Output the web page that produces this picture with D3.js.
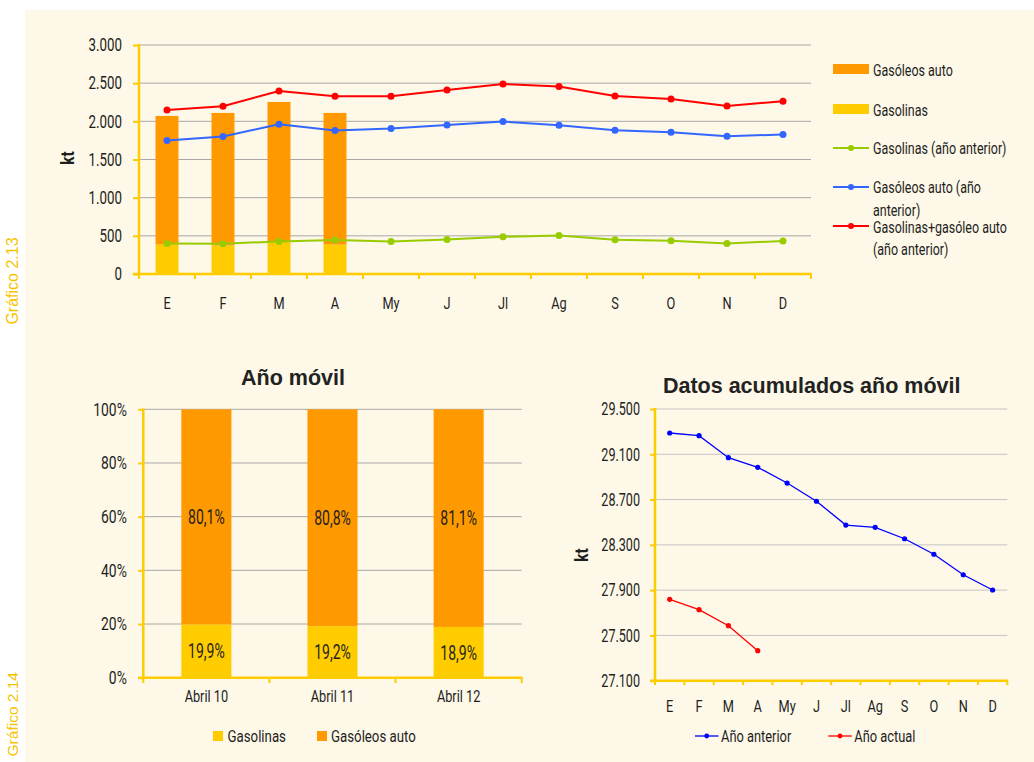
<!DOCTYPE html>
<html><head><meta charset="utf-8">
<script src="https://cdn.jsdelivr.net/npm/d3@7"></script>
<style>
body{margin:0;background:#fff;}
svg text{font-family:Roboto,"Liberation Sans",sans-serif;fill:#1e1e1e;}
svg text.arial{font-family:"Liberation Sans",Arial,sans-serif;}
</style></head><body>
<svg id="c" width="1034" height="762"></svg>
<script>
// ---------- data ----------
const months = ["E","F","M","A","My","J","Jl","Ag","S","O","N","D"];
const gasolinas = [385,375,420,385];
const gasoleos = [1686,1735,1834,1725];
const gasolinasPrev = [401,397,427,445,427,453,488,505,449,436,401,432];
const gasoleosPrev = [1748,1800,1962,1879,1905,1953,1997,1949,1884,1858,1806,1827];
const totalPrev = [2149,2197,2398,2328,2328,2410,2490,2455,2333,2293,2202,2263];
const yTicksTop = [0,500,1000,1500,2000,2500,3000];

const movilCats = ["Abril 10","Abril 11","Abril 12"];
const movilGasolinas = [19.9,19.2,18.9];
const movilGasoleos = [80.1,80.8,81.1];
const yTicksMovil = [0,20,40,60,80,100];

const acumPrev = [29288,29264,29070,28985,28846,28685,28475,28455,28354,28217,28036,27901];
const acumCurr = [27819,27727,27586,27365];
const yTicksAcum = [27100,27500,27900,28300,28700,29100,29500];

// ---------- setup ----------
const loc = d3.formatLocale({decimal:",",thousands:".",grouping:[3],currency:["",""]});
const fmtK = loc.format(",d");
const fmtP = loc.format(".1f");
const C = {orange:"#FF9900",yellow:"#FFCC00",green:"#99CC00",blue:"#3366FF",red:"#FF0000",axis:"#FFCC00",grid:"#A8A8A8"};

// narrow the glyphs of a text selection horizontally around its anchor (emulates a condensed face)
function condense(sel,k){
  sel.each(function(){
    const s = d3.select(this);
    const x = +s.attr("x") || 0;
    const t = s.attr("transform") || "";
    s.attr("transform",`${t} translate(${x},0) scale(${k},1) translate(${-x},0)`.trim());
  });
}

const svg = d3.select("#c");
svg.append("rect").attr("x",25).attr("y",10).attr("width",1009).attr("height",752).attr("fill","#FDF8E7");

svg.append("text").attr("class","arial").attr("transform","translate(18,281) rotate(-90)")
  .attr("text-anchor","middle").style("font-size","16px").style("fill","#F5C400").text("Gráfico 2.13");
svg.append("text").attr("class","arial").attr("transform","translate(18,672) rotate(-90)")
  .attr("text-anchor","end").style("font-size","15.5px").style("fill","#F5C400").text("Gráfico 2.14");

function styleAxis(g,fs,k){
  g.select(".domain").remove();
  g.selectAll(".tick line").attr("stroke",C.axis).attr("stroke-width",2);
  g.selectAll(".tick text").attr("font-family",null).attr("font-size",null)
    .style("font-size",fs+"px").style("fill","#1e1e1e");
  condense(g.selectAll(".tick text"),k);
}

// ---------- top chart ----------
(function(){
  const x = d3.scaleBand().domain(months).range([139,811]);
  const y = d3.scaleLinear().domain([0,3000]).range([274,45]);
  const g = svg.append("g");
  g.selectAll("line.grid").data(yTicksTop.filter(d=>d>0)).join("line")
    .attr("x1",139).attr("x2",811).attr("y1",d=>y(d)).attr("y2",d=>y(d))
    .attr("stroke",C.grid).attr("stroke-width",1);
  const bw = x.bandwidth()*0.41;
  g.selectAll("rect.gl").data(gasolinas).join("rect")
    .attr("x",(d,i)=>x(months[i])+(x.bandwidth()-bw)/2).attr("width",bw)
    .attr("y",d=>y(d)).attr("height",d=>y(0)-y(d)).attr("fill",C.yellow);
  g.selectAll("rect.go").data(gasoleos).join("rect")
    .attr("x",(d,i)=>x(months[i])+(x.bandwidth()-bw)/2).attr("width",bw)
    .attr("y",(d,i)=>y(d+gasolinas[i])).attr("height",(d,i)=>y(gasolinas[i])-y(d+gasolinas[i])).attr("fill",C.orange);
  const ya = g.append("g").attr("transform","translate(139,0)")
    .call(d3.axisLeft(y).tickValues(yTicksTop).tickSize(6).tickPadding(11).tickFormat(fmtK));
  styleAxis(ya,18,0.74);
  g.append("line").attr("x1",139).attr("x2",139).attr("y1",44).attr("y2",275).attr("stroke",C.axis).attr("stroke-width",2.5);
  g.append("line").attr("x1",133).attr("x2",812).attr("y1",274).attr("y2",274).attr("stroke",C.axis).attr("stroke-width",2.5);
  g.selectAll("line.xt").data(d3.range(months.length+1)).join("line")
    .attr("x1",i=>139+i*x.step()).attr("x2",i=>139+i*x.step()).attr("y1",274).attr("y2",279)
    .attr("stroke",C.axis).attr("stroke-width",2);
  const xa = g.append("g").attr("transform","translate(0,274)").call(d3.axisBottom(x).tickSize(0).tickPadding(23));
  styleAxis(xa,17,0.75);
  const series = [[gasolinasPrev,C.green],[gasoleosPrev,C.blue],[totalPrev,C.red]];
  series.forEach(([vals,col])=>{
    const line = d3.line().x((d,i)=>x(months[i])+x.bandwidth()/2).y(d=>y(d));
    g.append("path").datum(vals).attr("d",line).attr("fill","none").attr("stroke",col).attr("stroke-width",2);
    g.selectAll(null).data(vals).join("circle").attr("cx",(d,i)=>x(months[i])+x.bandwidth()/2)
      .attr("cy",d=>y(d)).attr("r",3.5).attr("fill",col);
  });
  g.append("text").attr("transform","translate(74,158) rotate(-90) scale(0.85,1)").attr("text-anchor","middle")
    .style("font-size","18px").style("font-weight","bold").text("kt");
  // legend
  const lg = svg.append("g");
  const lx = 833, tx = 873;
  lg.append("rect").attr("x",lx).attr("y",64).attr("width",36).attr("height",10).attr("fill",C.orange);
  lg.append("rect").attr("x",lx).attr("y",104).attr("width",36).attr("height",10).attr("fill",C.yellow);
  [[148,C.green],[187,C.blue],[226,C.red]].forEach(([yy,col])=>{
    lg.append("line").attr("x1",lx).attr("x2",lx+36).attr("y1",yy).attr("y2",yy).attr("stroke",col).attr("stroke-width",2);
    lg.append("circle").attr("cx",lx+18).attr("cy",yy).attr("r",3).attr("fill",col);
  });
  const lt = [["Gasóleos auto",70.5],["Gasolinas",110],["Gasolinas (año anterior)",148.5],["Gasóleos auto (año",187],["anterior)",210],["Gasolinas+gasóleo auto",227],["(año anterior)",249.5]];
  const lts = lg.selectAll("text").data(lt).join("text").attr("x",tx).attr("y",d=>d[1]).attr("dy","0.35em")
    .style("font-size","16px").text(d=>d[0]);
  condense(lts,0.78);
})();

// ---------- bottom left ----------
(function(){
  const x = d3.scaleBand().domain(movilCats).range([143.3,521.7]);
  const y = d3.scaleLinear().domain([0,100]).range([677.7,409.3]);
  const g = svg.append("g");
  svg.append("text").attr("class","arial").attr("x",293).attr("y",385).attr("text-anchor","middle")
    .style("font-size","21.5px").style("font-weight","bold").style("fill","#222").text("Año móvil");
  g.selectAll("line.grid").data(yTicksMovil.filter(d=>d>0)).join("line")
    .attr("x1",143).attr("x2",521.7).attr("y1",d=>y(d)).attr("y2",d=>y(d))
    .attr("stroke",C.grid).attr("stroke-width",1);
  const bw = x.bandwidth()*0.397;
  const bx = d=>x(d)+(x.bandwidth()-bw)/2;
  g.selectAll("rect.a").data(movilGasolinas).join("rect")
    .attr("x",(d,i)=>bx(movilCats[i])).attr("width",bw).attr("y",d=>y(d)).attr("height",d=>y(0)-y(d)).attr("fill",C.yellow);
  g.selectAll("rect.b").data(movilGasoleos).join("rect")
    .attr("x",(d,i)=>bx(movilCats[i])).attr("width",bw).attr("y",(d,i)=>y(d+movilGasolinas[i]))
    .attr("height",(d,i)=>y(movilGasolinas[i])-y(d+movilGasolinas[i])).attr("fill",C.orange);
  const la = g.selectAll("text.la").data(movilGasolinas).join("text")
    .attr("x",(d,i)=>x(movilCats[i])+x.bandwidth()/2).attr("y",d=>y(d/2)).attr("dy","0.36em")
    .attr("text-anchor","middle").style("font-size","20px").text(d=>fmtP(d)+"%");
  const lb = g.selectAll("text.lb").data(movilGasoleos).join("text")
    .attr("x",(d,i)=>x(movilCats[i])+x.bandwidth()/2).attr("y",(d,i)=>y(movilGasolinas[i]+d/2)).attr("dy","0.36em")
    .attr("text-anchor","middle").style("font-size","20px").text(d=>fmtP(d)+"%");
  condense(la,0.7); condense(lb,0.7);
  const ya = g.append("g").attr("transform","translate(143.3,0)")
    .call(d3.axisLeft(y).tickValues(yTicksMovil).tickSize(5).tickPadding(11.5).tickFormat(d=>d+"%"));
  styleAxis(ya,18.5,0.75);
  g.append("line").attr("x1",143.3).attr("x2",143.3).attr("y1",408.5).attr("y2",678.5).attr("stroke",C.axis).attr("stroke-width",2.5);
  g.append("line").attr("x1",138).attr("x2",522.5).attr("y1",677.7).attr("y2",677.7).attr("stroke",C.axis).attr("stroke-width",2.5);
  g.selectAll("line.xt").data(d3.range(movilCats.length+1)).join("line")
    .attr("x1",i=>143.3+i*x.step()).attr("x2",i=>143.3+i*x.step()).attr("y1",677.7).attr("y2",683)
    .attr("stroke",C.axis).attr("stroke-width",2);
  const xa = g.append("g").attr("transform","translate(0,677.7)").call(d3.axisBottom(x).tickSize(0).tickPadding(12));
  styleAxis(xa,17,0.75);
  g.append("rect").attr("x",213).attr("y",731).attr("width",10).attr("height",10).attr("fill",C.yellow);
  g.append("rect").attr("x",317).attr("y",731).attr("width",10).attr("height",10).attr("fill",C.orange);
  const lg1 = g.append("text").attr("x",227.5).attr("y",736).attr("dy","0.36em").style("font-size","17px").text("Gasolinas");
  const lg2 = g.append("text").attr("x",331).attr("y",736).attr("dy","0.36em").style("font-size","17px").text("Gasóleos auto");
  condense(lg1,0.78); condense(lg2,0.78);
})();

// ---------- bottom right ----------
(function(){
  const x = d3.scaleBand().domain(months).range([655,1007.3]);
  const y = d3.scaleLinear().domain([27100,29500]).range([680.7,409]);
  const g = svg.append("g");
  svg.append("text").attr("class","arial").attr("x",811.7).attr("y",392.5).attr("text-anchor","middle")
    .style("font-size","21.5px").style("font-weight","bold").style("fill","#222").text("Datos acumulados año móvil");
  g.selectAll("line.grid").data(yTicksAcum.slice(1)).join("line")
    .attr("x1",655).attr("x2",1007.3).attr("y1",d=>y(d)).attr("y2",d=>y(d))
    .attr("stroke","#C4C4C4").attr("stroke-width",1);
  const ya = g.append("g").attr("transform","translate(655,0)")
    .call(d3.axisLeft(y).tickValues(yTicksAcum).tickSize(5).tickPadding(10).tickFormat(fmtK));
  styleAxis(ya,18,0.7);
  g.append("line").attr("x1",655).attr("x2",655).attr("y1",408).attr("y2",681.5).attr("stroke",C.axis).attr("stroke-width",2.5);
  g.append("line").attr("x1",650).attr("x2",1008).attr("y1",680.7).attr("y2",680.7).attr("stroke",C.axis).attr("stroke-width",2.5);
  g.selectAll("line.xt").data(d3.range(months.length+1)).join("line")
    .attr("x1",i=>655+i*x.step()).attr("x2",i=>655+i*x.step()).attr("y1",680.7).attr("y2",685)
    .attr("stroke",C.axis).attr("stroke-width",2);
  const xa = g.append("g").attr("transform","translate(0,680.7)").call(d3.axisBottom(x).tickSize(0).tickPadding(19));
  styleAxis(xa,17,0.75);
  [[acumPrev,"#0000FF"],[acumCurr,"#FF0000"]].forEach(([vals,col])=>{
    const line = d3.line().x((d,i)=>x(months[i])+x.bandwidth()/2).y(d=>y(d));
    g.append("path").datum(vals).attr("d",line).attr("fill","none").attr("stroke",col).attr("stroke-width",1.3);
    g.selectAll(null).data(vals).join("circle").attr("cx",(d,i)=>x(months[i])+x.bandwidth()/2)
      .attr("cy",d=>y(d)).attr("r",2.6).attr("fill",col);
  });
  g.append("text").attr("transform","translate(588,555) rotate(-90) scale(0.85,1)").attr("text-anchor","middle")
    .style("font-size","18px").style("font-weight","bold").text("kt");
  [[695,"#0000FF","Año anterior"],[828.3,"#FF0000","Año actual"]].forEach(([lx,col,t])=>{
    g.append("line").attr("x1",lx).attr("x2",lx+23.5).attr("y1",736).attr("y2",736).attr("stroke",col).attr("stroke-width",1.3);
    g.append("circle").attr("cx",lx+11.7).attr("cy",736).attr("r",2.4).attr("fill",col);
    const t1 = g.append("text").attr("x",lx+26).attr("y",736).attr("dy","0.36em").style("font-size","16.5px").text(t);
    condense(t1,0.78);
  });
})();
</script>
</body></html>
